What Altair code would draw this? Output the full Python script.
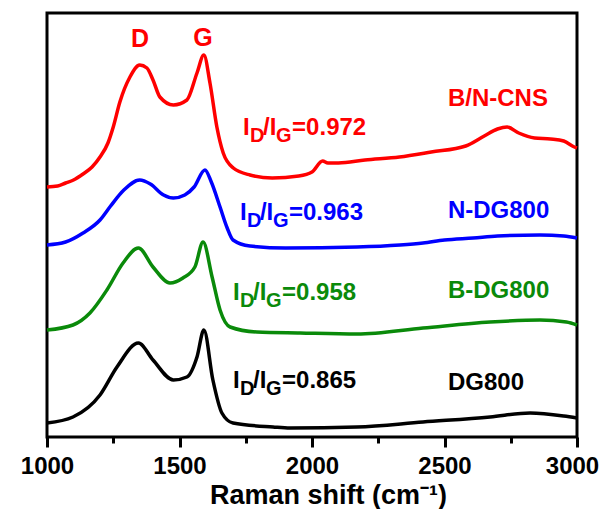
import altair as alt
import pandas as pd

# ---- spectra (Raman shift in cm-1, intensity in arbitrary units) ----
bn_x = [1000, 1040, 1070, 1100, 1136, 1170, 1200, 1230, 1250, 1275, 1313, 1350, 1377, 1400, 1426,
        1477, 1528, 1566, 1592, 1615, 1641, 1665, 1703, 1766, 1850, 1950, 2000, 2040, 2060, 2100,
        2200, 2330, 2450, 2580, 2650, 2700, 2736, 2780, 2840, 2900, 2950, 2990, 3000]
bn_y = [250, 251, 254, 257, 263, 270, 280, 294, 310, 335, 360, 372, 369, 357, 340,
        332, 337, 364, 382, 354, 310, 284, 269, 262, 259, 261, 265, 276, 274, 274,
        277, 280, 285, 291, 301, 308, 310, 304, 299, 298, 296, 290, 289]

n_x = [1000, 1070, 1136, 1200, 1240, 1290, 1350, 1390, 1440, 1477, 1520, 1555, 1596, 1620,
       1653, 1680, 1702, 1766, 1900, 2170, 2332, 2419, 2500, 2608, 2700, 2860, 2950, 3000]
n_y = [192, 195, 204, 217, 231, 247, 257, 253, 242, 239, 242, 250, 267, 255,
       230, 209, 197, 191, 189, 190, 192, 194, 197, 199, 201, 202, 201, 199]

b_x = [1000, 1098, 1162, 1226, 1287, 1345, 1400, 1464, 1513, 1558, 1589, 1623, 1653, 1691,
       1792, 1955, 2170, 2419, 2672, 2860, 2960, 3000]
b_y = [107, 112, 124, 147, 174, 189, 170, 154, 159, 170, 195, 160, 127, 110,
       105, 104, 103, 109, 115, 117, 115, 112]

dg_x = [1000, 1098, 1200, 1264, 1345, 1400, 1477, 1528, 1566, 1592, 1626, 1660, 1702, 1853,
        1917, 2170, 2419, 2672, 2823, 2950, 3000]
dg_y = [14, 20, 42, 70, 94, 77, 57, 60, 80, 107, 57, 24, 14, 10,
        9, 10, 15, 20, 24, 21, 19]

samples = ["B/N-CNS", "N-DG800", "B-DG800", "DG800"]
colors = ["#ff0000", "#0000ff", "#0a8a0a", "#000000"]
ratios = ["=0.972", "=0.963", "=0.958", "=0.865"]

# annotation anchors (data coordinates)
ratio_x = [1740, 1728, 1702, 1702]
ratio_y = [302, 217, 137, 49]
name_x = [2513, 2513, 2513, 2513]
name_y = [331, 219, 139, 47]
peak_names = ["D", "G"]
peak_x = [1351, 1589]
peak_y = [390, 391]

major_ticks = [1000, 1500, 2000, 2500, 3000]
minor_ticks = [1250, 1750, 2250, 2750]

FONT = "Liberation Sans"

rows = []
for name, col, xs, ys in zip(samples, colors, [bn_x, n_x, b_x, dg_x], [bn_y, n_y, b_y, dg_y]):
    for xv, yv in zip(xs, ys):
        rows.append({"sample": name, "color": col, "shift": xv, "intensity": yv})
curves = pd.DataFrame(rows)

labels = pd.DataFrame({"sample": samples, "color": colors, "ratio": ratios,
                       "rx": ratio_x, "ry": ratio_y, "nx": name_x, "ny": name_y})
peaks = pd.DataFrame({"name": peak_names, "x": peak_x, "y": peak_y})

xscale = alt.Scale(domain=[1000, 3000], nice=False, zero=False)
yscale = alt.Scale(domain=[0, 424], nice=False, zero=False)

lines = alt.Chart(curves).mark_line(strokeWidth=3.5, interpolate="monotone").encode(
    x=alt.X("shift:Q", scale=xscale,
            axis=alt.Axis(values=major_ticks, format="d", orient="bottom", grid=False,
                          domain=False, tickSize=10, tickWidth=3, tickColor="black",
                          labelFont=FONT, labelFontSize=24, labelFontWeight="bold",
                          labelColor="black", labelPadding=7, labelFlush=False,
                          labelOffset=alt.ExprRef(expr="datum.value == 3000 ? -5 : 0"),
                          title="Raman shift (cm⁻¹)", titleFont=FONT, titleFontSize=27,
                          titleFontWeight="bold", titleColor="black",
                          titleX=281, titleY=66, titleBaseline="alphabetic",
                          titleAlign="center")),
    y=alt.Y("intensity:Q", scale=yscale,
            axis=alt.Axis(labels=False, ticks=False, domain=False, grid=False,
                          title="Intensity (a.u.)", titleFont=FONT, titleFontSize=27,
                          titleFontWeight="bold", titleColor="black", titleAngle=270,
                          titleX=-16, titleY=195, titleBaseline="alphabetic",
                          titleAlign="center")),
    color=alt.Color("color:N", scale=None),
    detail="sample:N",
)

minor = alt.Chart(pd.DataFrame({"shift": minor_ticks})).mark_tick(opacity=0).encode(
    x=alt.X("shift:Q", scale=xscale,
            axis=alt.Axis(values=minor_ticks, orient="bottom", grid=False, domain=False,
                          labels=False, title=None, tickSize=6, tickWidth=3,
                          tickColor="black")),
)

txt = dict(font=FONT, fontWeight="bold", align="left", baseline="alphabetic")
lab = alt.Chart(labels)
enc = dict(x=alt.X("rx:Q", scale=xscale, axis=None),
           y=alt.Y("ry:Q", scale=yscale, axis=None),
           color=alt.Color("color:N", scale=None))
t_i1 = lab.mark_text(fontSize=24, dx=0, **txt).encode(text=alt.value("I"), **enc)
t_d = lab.mark_text(fontSize=20, dx=7, dy=7, **txt).encode(text=alt.value("D"), **enc)
t_i2 = lab.mark_text(fontSize=24, dx=20, **txt).encode(text=alt.value("/I"), **enc)
t_g = lab.mark_text(fontSize=20, dx=33, dy=7, **txt).encode(text=alt.value("G"), **enc)
t_r = lab.mark_text(fontSize=24, dx=49, **txt).encode(text="ratio:N", **enc)

t_name = lab.mark_text(fontSize=24, **txt).encode(
    x=alt.X("nx:Q", scale=xscale, axis=None), y=alt.Y("ny:Q", scale=yscale, axis=None),
    text="sample:N", color=alt.Color("color:N", scale=None))

t_peak = alt.Chart(peaks).mark_text(font=FONT, fontWeight="bold", fontSize=25,
                                    align="center", baseline="alphabetic",
                                    color="#ff0000").encode(
    x=alt.X("x:Q", scale=xscale, axis=None), y=alt.Y("y:Q", scale=yscale, axis=None),
    text="name:N")

chart = alt.layer(lines, minor, t_i1, t_d, t_i2, t_g, t_r, t_name, t_peak).resolve_axis(
    x="independent"
).properties(
    width=530, height=424,
    padding={"left": 39, "top": 5, "right": 24, "bottom": 72},
    autosize=alt.AutoSizeParams(type="none"),
    background="white",
).configure_view(stroke="black", strokeWidth=3)

chart.save("out.html", embed_options={"renderer": "svg", "actions": False})
